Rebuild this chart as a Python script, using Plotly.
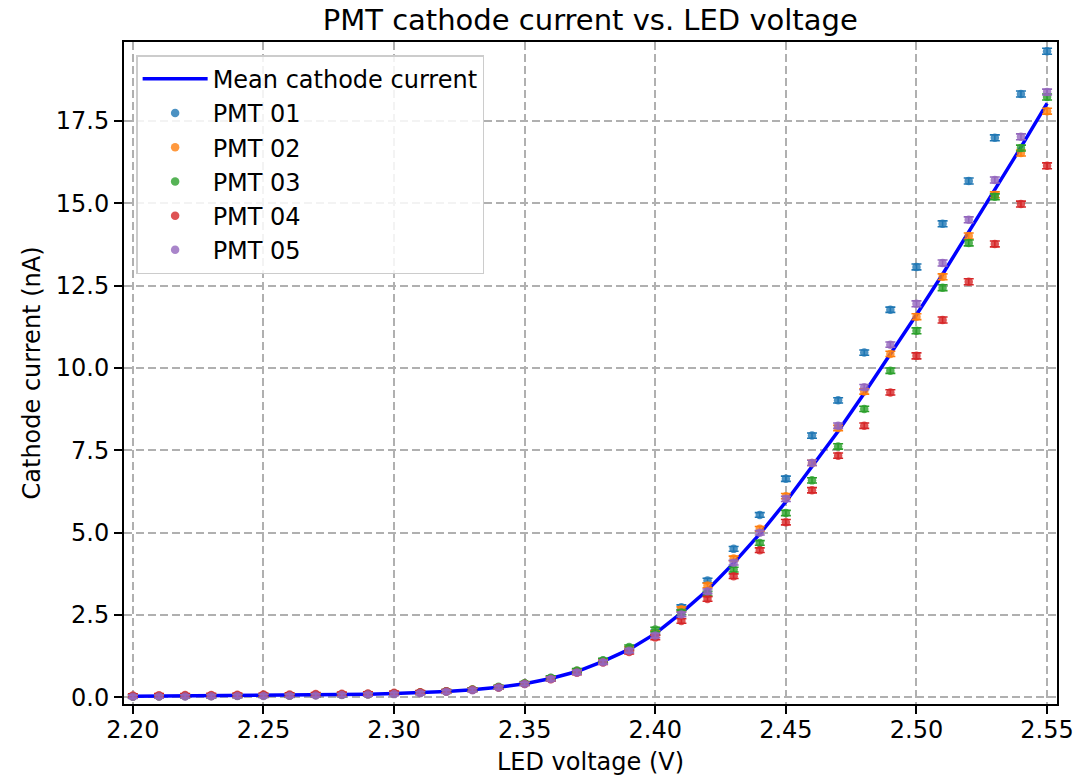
import plotly.graph_objects as go
import numpy as np

voltage = [2.20, 2.21, 2.22, 2.23, 2.24, 2.25, 2.26, 2.27, 2.28, 2.29,
           2.30, 2.31, 2.32, 2.33, 2.34, 2.35, 2.36, 2.37, 2.38, 2.39,
           2.40, 2.41, 2.42, 2.43, 2.44, 2.45, 2.46, 2.47, 2.48, 2.49,
           2.50, 2.51, 2.52, 2.53, 2.54, 2.55]

pmt01 = [0.03, 0.035, 0.04, 0.045, 0.05, 0.055, 0.06, 0.07, 0.08, 0.095,
         0.115, 0.14, 0.18, 0.23, 0.31, 0.42, 0.59, 0.80, 1.11, 1.48,
         1.97, 2.74, 3.55, 4.51, 5.54, 6.64, 7.95, 9.02, 10.47, 11.77,
         13.07, 14.38, 15.68, 16.99, 18.32, 19.62]
pmt02 = [0.03, 0.035, 0.04, 0.045, 0.05, 0.055, 0.06, 0.07, 0.08, 0.095,
         0.115, 0.14, 0.18, 0.23, 0.31, 0.42, 0.58, 0.80, 1.10, 1.47,
         1.95, 2.68, 3.40, 4.22, 5.12, 6.11, 7.12, 8.18, 9.29, 10.43,
         11.56, 12.77, 14.01, 15.26, 16.53, 17.80]
pmt03 = [0.03, 0.035, 0.04, 0.045, 0.05, 0.055, 0.06, 0.07, 0.08, 0.10,
         0.12, 0.15, 0.19, 0.24, 0.32, 0.43, 0.60, 0.82, 1.13, 1.53,
         2.06, 2.58, 3.15, 3.88, 4.69, 5.60, 6.59, 7.62, 8.76, 9.92,
         11.13, 12.44, 13.80, 15.20, 16.68, 18.23]
pmt04 = [0.06, 0.065, 0.07, 0.075, 0.08, 0.085, 0.09, 0.10, 0.11, 0.12,
         0.14, 0.16, 0.19, 0.23, 0.30, 0.41, 0.55, 0.75, 1.06, 1.38,
         1.82, 2.32, 2.99, 3.68, 4.47, 5.32, 6.29, 7.34, 8.25, 9.26,
         10.37, 11.46, 12.62, 13.77, 14.98, 16.14]
pmt05 = [0.02, 0.025, 0.03, 0.035, 0.04, 0.045, 0.05, 0.06, 0.07, 0.085,
         0.10, 0.13, 0.17, 0.22, 0.30, 0.41, 0.56, 0.76, 1.07, 1.42,
         1.88, 2.52, 3.22, 4.09, 5.00, 6.03, 7.12, 8.25, 9.42, 10.71,
         11.95, 13.19, 14.50, 15.71, 17.02, 18.38]

errors = [0.05, 0.05, 0.05, 0.05, 0.05, 0.05, 0.05, 0.05, 0.05, 0.05,
          0.05, 0.05, 0.05, 0.05, 0.05, 0.05, 0.06, 0.06, 0.06, 0.06,
          0.07, 0.07, 0.07, 0.07, 0.07, 0.08, 0.08, 0.08, 0.08, 0.08,
          0.09, 0.09, 0.09, 0.09, 0.09, 0.09]

names = ["PMT 01", "PMT 02", "PMT 03", "PMT 04", "PMT 05"]
colors = ["#1f77b4", "#ff7f0e", "#2ca02c", "#d62728", "#9467bd"]
series = [pmt01, pmt02, pmt03, pmt04, pmt05]

mean_current = np.mean(np.array(series), axis=0)

FONT = "DejaVu Sans"
FS = 24

fig = go.Figure()
fig.add_trace(go.Scatter(
    x=voltage, y=mean_current, mode="lines", name="Mean cathode current",
    line=dict(color="#0000ff", width=3.5)))

for name, col, ys in zip(names, colors, series):
    fig.add_trace(go.Scatter(
        x=voltage, y=ys, mode="markers", name=name,
        marker=dict(color=col, size=8.5, opacity=0.8),
        error_y=dict(type="data", array=errors, visible=True,
                     color=col, thickness=1.6, width=5)))

axis_common = dict(
    showline=True, linecolor="black", linewidth=2, mirror=True,
    ticks="outside", ticklen=8, tickwidth=2, tickcolor="black",
    showgrid=True, gridcolor="#b0b0b0", gridwidth=1.6, griddash="8px,4px",
    zeroline=False, automargin=False,
    tickfont=dict(family=FONT, size=FS, color="black"),
)

fig.update_layout(
    width=1079, height=778,
    margin=dict(l=124, r=22, t=42, b=74),
    paper_bgcolor="white", plot_bgcolor="white",
    font=dict(family=FONT, size=FS, color="black"),
    title=dict(text="PMT cathode current vs. LED voltage", x=0.547, xanchor="center",
               y=0.975, yanchor="middle", font=dict(family=FONT, size=29, color="black")),
    xaxis=dict(range=[2.1966, 2.5538], tickvals=[2.20, 2.25, 2.30, 2.35, 2.40, 2.45, 2.50, 2.55],
               ticktext=["2.20", "2.25", "2.30", "2.35", "2.40", "2.45", "2.50", "2.55"],
               ticklabelstandoff=-5,
               title=dict(text="LED voltage (V)", font=dict(family=FONT, size=FS), standoff=10),
               **axis_common),
    yaxis=dict(range=[-0.20, 19.90], tickvals=[0, 2.5, 5, 7.5, 10, 12.5, 15, 17.5],
               ticktext=["0.0", "2.5", "5.0", "7.5", "10.0", "12.5", "15.0", "17.5"],
               title=dict(text="Cathode current (nA)", font=dict(family=FONT, size=FS), standoff=8),
               **axis_common),
    legend=dict(x=0.013, y=0.98, xanchor="left", yanchor="top",
                bgcolor="rgba(255,255,255,0.85)", bordercolor="#cccccc", borderwidth=1.5,
                font=dict(family=FONT, size=FS), tracegroupgap=0, itemwidth=65),
    showlegend=True,
)

fig.write_html("out.html")
